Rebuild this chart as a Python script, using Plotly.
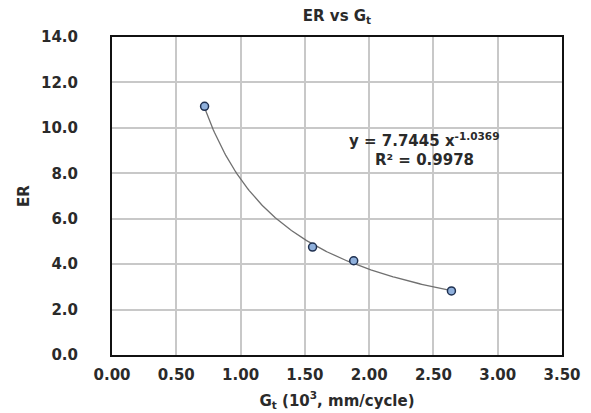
import numpy as np
import plotly.graph_objects as go

# Measured points: crack growth parameter vs. ER
gt_values = [0.72, 1.56, 1.88, 2.64]
er_values = [10.95, 4.75, 4.15, 2.82]

# Power-law trendline coefficients (y = a * x^b)
fit_a = 7.7445
fit_b = -1.0369
fit_r2 = 0.9978

x_ticks = [0.0, 0.5, 1.0, 1.5, 2.0, 2.5, 3.0, 3.5]
y_ticks = [0.0, 2.0, 4.0, 6.0, 8.0, 10.0, 12.0, 14.0]

font_family = "DejaVu Sans, Verdana, sans-serif"
text_color = "#2a2a2a"

fit_x = np.linspace(min(gt_values), max(gt_values), 200)
fit_y = fit_a * fit_x ** fit_b

fig = go.Figure()

fig.add_trace(go.Scatter(
    x=fit_x, y=fit_y, mode="lines",
    line=dict(color="#707070", width=1.3),
    hoverinfo="skip", showlegend=False,
))

fig.add_trace(go.Scatter(
    x=gt_values, y=er_values, mode="markers",
    marker=dict(size=8, color="#8fb0dc", line=dict(color="#1f3050", width=1.5)),
    showlegend=False,
))

fig.add_annotation(
    x=2.43, y=9.45, xref="x", yref="y", showarrow=False,
    text=f"<b>y = {fit_a} x<sup>{fit_b}</sup></b>",
    font=dict(family=font_family, size=15, color=text_color),
)
fig.add_annotation(
    x=2.43, y=8.6, xref="x", yref="y", showarrow=False,
    text=f"<b>R² = {fit_r2}</b>",
    font=dict(family=font_family, size=15, color=text_color),
)

fig.update_layout(
    width=591, height=413,
    margin=dict(l=112, r=29, t=37, b=58),
    paper_bgcolor="white", plot_bgcolor="white",
    title=dict(
        text="<b>ER vs G<sub>t</sub></b>",
        x=(112 + 562) / 2 / 591, xanchor="center",
        y=1 - 16 / 413, yanchor="middle",
        font=dict(family=font_family, size=15, color=text_color),
    ),
    font=dict(family=font_family, color=text_color),
    xaxis=dict(
        range=[0, 3.5], tickvals=x_ticks, tickformat=".2f",
        showgrid=True, gridcolor="#c8c8c8", gridwidth=1.5,
        showline=True, linecolor="#111", linewidth=2, mirror=True,
        zeroline=False, ticks="", ticklabelstandoff=5, automargin=False,
        tickfont=dict(family=font_family, size=15, color=text_color, weight="bold"),
        title=dict(
            text="<b>G<sub>t</sub> (10<sup>3</sup>, mm/cycle)</b>",
            font=dict(family=font_family, size=15, color=text_color),
            standoff=12,
        ),
    ),
    yaxis=dict(
        range=[0, 14], tickvals=y_ticks, tickformat=".1f",
        showgrid=True, gridcolor="#c8c8c8", gridwidth=1.5,
        showline=True, linecolor="#111", linewidth=2, mirror=True,
        zeroline=False, ticks="", ticklabelstandoff=29, automargin=False,
        tickfont=dict(family=font_family, size=15, color=text_color, weight="bold"),
        title=dict(
            text="<b>ER</b>",
            font=dict(family=font_family, size=15, color=text_color),
            standoff=8,
        ),
    ),
)

fig.write_html("out.html")
